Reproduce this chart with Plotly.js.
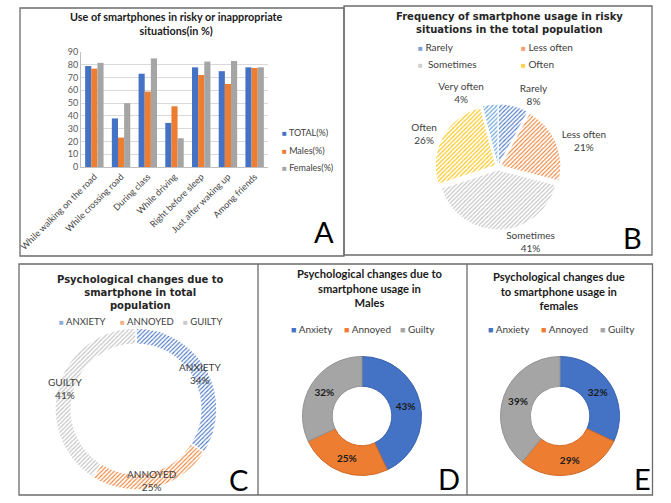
<!DOCTYPE html>
<html><head><meta charset="utf-8">
<script src="https://cdn.plot.ly/plotly-3.0.1.min.js"></script>
<style>html,body{margin:0;padding:0;background:#fff}</style>
</head><body><div id="chart" style="width:671px;height:503px"></div>
<script>
// ---------- data ----------
const situations = ['While walking on the road','While crossing road','During class','While driving','Right before sleep','Just after waking up','Among friends'];
const barSeries = ['TOTAL(%)','Males(%)','Females(%)'];
const totalPct = [79, 38, 73, 34.5, 78, 75, 78];
const malesPct = [77, 23, 59, 47.5, 72, 65, 77.5];
const femalesPct = [81.5, 50, 85, 22.5, 82.5, 83, 78];
const yTickVals = [0,10,20,30,40,50,60,70,80,90];

const freqLabels = ['Rarely','Less often','Sometimes','Often','Very often'];
const freqValues = [8, 21, 41, 26, 4];

const psychLabelsTotal = ['ANXIETY','ANNOYED','GUILTY'];
const psychTotal = [34, 25, 41];
const psychLabels = ['Anxiety','Annoyed','Guilty'];
const psychMales = [43, 25, 32];
const psychFemales = [32, 29, 39];

// ---------- styling ----------
const W = 671, H = 503;
const px = x => x / W;
const py = y => 1 - y / H;
const barColors = ['#4472C4','#ED7D31','#A5A5A5'];
const freqColors = ['#4472C4','#ED7D31','#BFBFBF','#FFC000','#5B9BD5'];
const freqLegendColors = ['#7F9FD8','#F2A06E','#D0D0D0','#FFD24D'];
const psychTotalColors = ['#4472C4','#ED7D31','#BFBFBF'];
const psychTotalLegend = ['#8FAADC','#F4B183','#C9C9C9'];
const psychColors = ['#4472C4','#ED7D31','#A5A5A5'];
const psychEdge = ['#3A64B0','#D06A25','#939393'];
const SANS = 'Lato, "Open Sans", sans-serif';
const WIDE = '"DejaVu Sans", sans-serif';

function pieDomain(cx, cy, r, pull) {
  const h = r * (1 + pull);
  return {x: [px(cx - h), px(cx + h)], y: [py(cy + h), py(cy - h)]};
}

const traces = [];
const seriesVals = [totalPct, malesPct, femalesPct];
barSeries.forEach((name, i) => {
  traces.push({
    type: 'bar', name, x: situations, y: seriesVals[i],
    marker: {color: barColors[i]}, xaxis: 'x', yaxis: 'y',
    showlegend: false, hoverinfo: 'x+y+name'
  });
});

// B pie
const B = {cx: 498, cy: 167, r: 59, pull: 0.06};
traces.push({
  type: 'pie', labels: freqLabels, values: freqValues, sort: false,
  direction: 'clockwise', rotation: 0, pull: B.pull,
  domain: pieDomain(B.cx, B.cy, B.r, B.pull),
  marker: {colors: freqColors, line: {color: '#ffffff', width: 0},
           pattern: {shape: '/', fgcolor: freqColors, bgcolor: '#ffffff', size: 3, solidity: 0.35}},
  textposition: 'outside', texttemplate: '%{label}<br>%{value}%',
  textfont: {family: SANS, size: 10, color: '#404040'},
  showlegend: false
});

// C donut
const C = {cx: 136, cy: 409, r: 81, hole: 0.8};
traces.push({
  type: 'pie', labels: psychLabelsTotal, values: psychTotal, sort: false,
  direction: 'clockwise', rotation: 0, hole: C.hole,
  domain: pieDomain(C.cx, C.cy, C.r, 0),
  marker: {colors: psychTotalColors, line: {color: '#ffffff', width: 1.5},
           pattern: {shape: '/', fgcolor: psychTotalColors, bgcolor: '#ffffff', size: 3, solidity: 0.35}},
  textinfo: 'none', showlegend: false
});

// D, E donuts
const D = {cx: 362, cy: 416, r: 59.5, hole: 0.5};
const E = {cx: 560, cy: 416, r: 59.5, hole: 0.5};
[[D, psychMales], [E, psychFemales]].forEach(([P, vals]) => {
  traces.push({
    type: 'pie', labels: psychLabels, values: vals, sort: false,
    direction: 'clockwise', rotation: 0, hole: P.hole,
    domain: pieDomain(P.cx, P.cy, P.r, 0),
    marker: {colors: psychColors, line: {color: psychEdge, width: 1}},
    textposition: 'inside', insidetextorientation: 'horizontal',
    texttemplate: '<b>%{value}%</b>',
    textfont: {family: SANS, size: 10, color: '#1a1a1a'},
    showlegend: false
  });
});

// ---------- annotations ----------
const ann = [];
function txt(x, y, text, opts) {
  ann.push(Object.assign({xref: 'paper', yref: 'paper', x: px(x), y: py(y), text,
    showarrow: false, xanchor: 'center', yanchor: 'middle',
    font: {family: SANS, size: 10, color: '#262626'}}, opts || {}));
}
// titles
txt(176, 24, '<b>Use of smartphones in risky or inappropriate<br>situations(in %)</b>', {font: {family: SANS, size: 10.8, color: '#1a1a1a'}});
txt(510, 23, '<b>Frequency of smartphone usage in risky<br>situations in the total population</b>', {font: {family: WIDE, size: 10, color: '#262626'}});
txt(140, 292, '<b>Psychological changes due to<br>smartphone in total<br>population</b>', {font: {family: WIDE, size: 10, color: '#262626'}});
txt(370, 288, '<b>Psychological changes due to<br>smartphone usage in<br>Males</b>', {font: {family: SANS, size: 11.2, color: '#1a1a1a'}});
txt(559, 291, '<b>Psychological changes due<br>to smartphone usage in<br>females</b>', {font: {family: SANS, size: 11.2, color: '#1a1a1a'}});

// legends
function legendItem(x, y, color, label, size, msize) {
  ann.push({xref: 'paper', yref: 'paper', x: px(x), y: py(y), xanchor: 'left', yanchor: 'middle',
    showarrow: false,
    text: '<span style="color:' + color + ';font-size:' + msize + 'px">■</span> ' + label,
    font: {family: SANS, size: size, color: '#404040'}});
}
const aLegY = [133, 150, 167];
barSeries.forEach((s, i) => legendItem(280, aLegY[i], barColors[i], s, 9, 8));
const bLegX = [416, 519, 416, 519], bLegY = [47, 47, 64, 64];
freqLabels.slice(0, 4).forEach((l, i) => legendItem(bLegX[i], bLegY[i], freqLegendColors[i], (i === 2 ? ' ' : '') + l, 10, 8));
const cLegX = [57, 118, 181];
psychLabelsTotal.forEach((l, i) => legendItem(cLegX[i], 321, psychTotalLegend[i], l, 9.5, 8));
const dLegX = [289, 342, 398];
psychLabels.forEach((l, i) => legendItem(dLegX[i], 329, psychColors[i], l, 10, 9));
const eLegX = [486, 539, 598];
psychLabels.forEach((l, i) => legendItem(eLegX[i], 329, psychColors[i], l, 10, 9));

// C ring labels from the data (mid-angle of each slice, on the ring centreline)
(function () {
  const tot = psychTotal.reduce((a, b) => a + b, 0);
  const rm = C.r * (1 + C.hole) / 2;
  let cum = 0;
  psychTotal.forEach((v, i) => {
    const mid = (cum + v / 2) / tot * 2 * Math.PI;
    cum += v;
    const x = C.cx + rm * Math.sin(mid), y = C.cy - rm * Math.cos(mid);
    txt(x, y, psychLabelsTotal[i] + '<br>' + v + '%', {font: {family: SANS, size: 10, color: '#404040'}});
  });
})();

// panel letters
[['A', 324, 231], ['B', 632, 237], ['C', 238, 479], ['D', 449, 478], ['E', 642, 478]].forEach(([t, x, y]) =>
  txt(x, y, t, {font: {family: SANS, size: 29, color: '#000000'}}));

// ---------- shapes (panel frames) ----------
const frame = '#6b6b6b';
const shapes = [
  {type: 'rect', xref: 'paper', yref: 'paper', x0: px(345), x1: px(652), y0: py(263.5), y1: py(255.6), fillcolor: '#ffffff', line: {width: 0}, layer: 'above'},
  {type: 'rect', xref: 'paper', yref: 'paper', x0: px(20), x1: px(344), y0: py(256), y1: py(8), line: {color: frame, width: 1.3}, layer: 'above'},
  {type: 'rect', xref: 'paper', yref: 'paper', x0: px(344), x1: px(652), y0: py(255), y1: py(6), line: {color: frame, width: 1.3}, layer: 'above'},
  {type: 'rect', xref: 'paper', yref: 'paper', x0: px(19), x1: px(652.5), y0: py(495), y1: py(264), line: {color: frame, width: 1.3}, layer: 'above'},
  {type: 'line', xref: 'paper', yref: 'paper', x0: px(258), x1: px(258), y0: py(495), y1: py(264), line: {color: frame, width: 1.3}, layer: 'above'},
  {type: 'line', xref: 'paper', yref: 'paper', x0: px(467), x1: px(467), y0: py(495), y1: py(264), line: {color: frame, width: 1.3}, layer: 'above'}
];

const layout = {
  width: W, height: H, autosize: false,
  margin: {l: 0, r: 0, t: 0, b: 0, pad: 0},
  paper_bgcolor: '#ffffff', plot_bgcolor: '#ffffff',
  showlegend: false,
  barmode: 'group', bargap: 0.31, bargroupgap: 0,
  xaxis: {domain: [px(81), px(268)], type: 'category', tickangle: -45,
          tickfont: {family: SANS, size: 9, color: '#404040'}, showline: true, linecolor: '#bfbfbf',
          ticks: '', automargin: false, fixedrange: true, showgrid: false},
  yaxis: {domain: [py(167), py(52)], range: [0, 90], tickvals: yTickVals, showgrid: true, gridcolor: '#d9d9d9',
          tickfont: {family: SANS, size: 9, color: '#595959'}, showline: true, linecolor: '#bfbfbf',
          ticks: '', zeroline: false, automargin: false, fixedrange: true},
  annotations: ann, shapes: shapes
};

Plotly.newPlot('chart', traces, layout, {staticPlot: true, displayModeBar: false});
</script></body></html>
